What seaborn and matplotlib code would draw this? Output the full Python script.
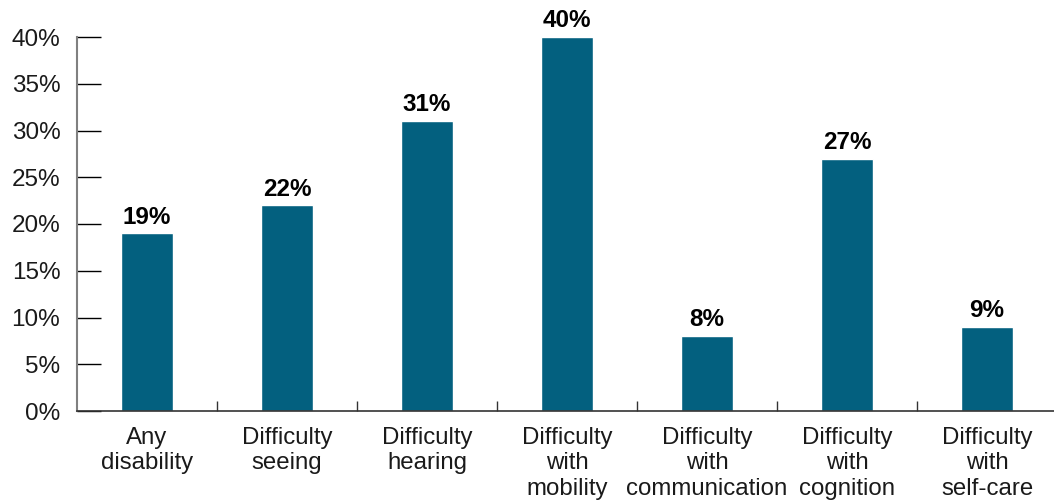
import matplotlib
matplotlib.use("Agg")
import matplotlib.pyplot as plt
import seaborn as sns
import pandas as pd
from matplotlib.ticker import FuncFormatter, FixedLocator

categories = ["Any\ndisability", "Difficulty\nseeing", "Difficulty\nhearing",
              "Difficulty\nwith\nmobility", "Difficulty\nwith\ncommunication",
              "Difficulty\nwith\ncognition", "Difficulty\nwith\nself-care"]
values = [19, 22, 31, 40, 8, 27, 9]
y_ticks = [0, 5, 10, 15, 20, 25, 30, 35, 40]

sns.set_theme(style="white")
plt.rcParams['font.family'] = ['Liberation Sans', 'DejaVu Sans']

df = pd.DataFrame({"cat": categories, "val": values})

W, H = 1054, 503
fig = plt.figure(figsize=(W / 100, H / 100), dpi=100)
ax = fig.add_axes([77 / W, (H - 411) / H, 980 / W, 374 / H])

sns.barplot(data=df, x="cat", y="val", order=categories, color="#03607F",
            width=0.365, saturation=1, ax=ax)

ax.set_xlim(-0.5, len(categories) - 0.5)
ax.set_ylim(0, 40)
ax.set_xlabel("")
ax.set_ylabel("")

ax.yaxis.set_major_locator(FixedLocator(y_ticks))
ax.yaxis.set_major_formatter(FuncFormatter(lambda v, p: f"{v:.0f}%"))
ax.tick_params(axis="y", direction="in", length=17, width=1, color="black",
               pad=12, labelsize=17.5, labelcolor="#1a1a1a", left=True)
ax.tick_params(axis="x", which="major", length=0, pad=11.5, labelsize=17.3,
               labelcolor="#1a1a1a")
for lab in ax.get_xticklabels():
    lab.set_linespacing(1.2)
ax.xaxis.set_minor_locator(FixedLocator([i + 0.5 for i in range(len(categories) - 1)]))
ax.tick_params(axis="x", which="minor", direction="in", length=7, width=1,
               color="#333333", bottom=True)

for s in ["top", "right"]:
    ax.spines[s].set_visible(False)
ax.spines["left"].set_color("#808080")
ax.spines["left"].set_linewidth(1.5)
ax.spines["bottom"].set_color("#333333")
ax.spines["bottom"].set_linewidth(1.2)

for i, v in enumerate(values):
    ax.annotate(f"{v}%", (i, v), xytext=(0, 7), textcoords="offset points",
                ha="center", va="baseline", fontsize=17.5, fontweight="bold",
                color="black", annotation_clip=False)

fig.savefig("out.png", dpi=100)
